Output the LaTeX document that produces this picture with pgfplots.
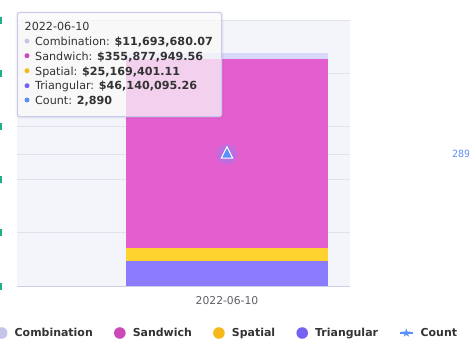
\documentclass[border=0pt]{standalone}
\usepackage{pgfplots}
\pgfplotsset{compat=1.18}
\usepackage{fontspec}
\setmainfont{DejaVu Sans}
\newfontfamily\monofont{DejaVu Sans Mono}
\definecolor{bgc}{HTML}{F3F5FA}
\definecolor{gridc}{HTML}{DFE2EA}
\definecolor{axisc}{HTML}{C9D1E6}
\definecolor{combc}{HTML}{D8D8FA}
\definecolor{sandc}{HTML}{E35FD0}
\definecolor{spatc}{HTML}{FED32F}
\definecolor{triac}{HTML}{8B7CFE}
\definecolor{countc}{HTML}{5B8FF9}
\definecolor{lcomb}{HTML}{C5C5EA}
\definecolor{lsand}{HTML}{CC4AB8}
\definecolor{lspat}{HTML}{F5B91B}
\definecolor{ltria}{HTML}{7562F5}
\definecolor{tealc}{HTML}{1FAE8A}
\definecolor{txtc}{HTML}{333333}
\definecolor{lblc}{HTML}{5E5E66}
\definecolor{glowc}{HTML}{9A7BF0}
\definecolor{ttborder}{HTML}{C6C8EE}
\begin{document}
\begin{tikzpicture}[x=1bp,y=1bp]
\path[use as bounding box] (0,0) rectangle (469,351);
\clip (0,0) rectangle (469,351);
\begin{axis}[
  at={(17bp,65bp)}, anchor=south west,
  scale only axis, width=333bp, height=266bp,
  xmin=-1.0396, xmax=0.6089, ymin=0, ymax=500,
  ybar stacked, bar width=202bp,
  axis background/.style={fill=bgc},
  axis x line*=bottom, axis y line*=left,
  x axis line style={axisc, line width=1bp},
  y axis line style={draw=none},
  major tick length=0pt,
  ymajorgrids, grid style={gridc, line width=0.8bp},
  ytick={0,100,200,300,400,500},
  yticklabel={\textcolor{tealc}{\rule[-3.5bp]{2.5bp}{7bp}}},
  yticklabel style={anchor=east, inner sep=0pt, xshift=-14.5bp},
  extra y ticks={247.6}, extra y tick labels={\empty},
  extra y tick style={grid=major},
  xtick={0}, xticklabels={2022-06-10},
  xticklabel style={font=\fontsize{10.8}{12}\selectfont, text=lblc, anchor=north, inner sep=0pt, yshift=-10.5bp},
]
\addplot[fill=triac, draw=none] coordinates {(0,46.14009526)};
\addplot[fill=spatc, draw=none] coordinates {(0,25.16940111)};
\addplot[fill=sandc, draw=none] coordinates {(0,355.87794956)};
\addplot[fill=combc, draw=none] coordinates {(0,11.69368007)};
\end{axis}
\begin{axis}[
  at={(17bp,65bp)}, anchor=south west,
  scale only axis, width=333bp, height=266bp,
  xmin=-1.0396, xmax=0.6089, ymin=0, ymax=5837,
  axis x line=none, axis y line*=right,
  y axis line style={draw=none},
  major tick length=0pt,
  ytick={2890}, yticklabels={2890},
  yticklabel style={font=\monofont\fontsize{10}{12}\selectfont, text=countc, anchor=west, inner sep=0pt, xshift=102bp},
  clip=false,
  legend columns=5,
  legend style={at={(-0.07357,-0.17669)}, anchor=west, draw=none, fill=none,
    font=\bfseries\fontsize{11}{13}\selectfont, text=txtc,
    column sep=0pt,
    /tikz/every odd column/.style={column sep=7bp},
    /tikz/every even column/.style={column sep=21bp},
    nodes={inner sep=0pt}, cells={anchor=west}},
]
\addplot[only marks, mark=*, mark size=10bp, mark options={draw=glowc, draw opacity=0, fill=glowc, fill opacity=0.5}, forget plot] coordinates {(0,2890)};
\addplot[only marks, mark=triangle*, mark size=6.5bp, mark options={fill=countc, draw=white, line width=1bp, yscale=1.15}, forget plot] coordinates {(0,2890)};
\addlegendimage{legend image code/.code={\path[draw=none, fill=lcomb] (6bp,0) circle (5.8bp); \path[draw=none, fill=none] (0,-6bp) rectangle (12bp,6bp);}}
\addlegendentry{Combination}
\addlegendimage{legend image code/.code={\path[draw=none, fill=lsand] (6bp,0) circle (5.8bp); \path[draw=none, fill=none] (0,-6bp) rectangle (12bp,6bp);}}
\addlegendentry{Sandwich}
\addlegendimage{legend image code/.code={\path[draw=none, fill=lspat] (6bp,0) circle (5.8bp); \path[draw=none, fill=none] (0,-6bp) rectangle (12bp,6bp);}}
\addlegendentry{Spatial}
\addlegendimage{legend image code/.code={\path[draw=none, fill=ltria] (6bp,0) circle (5.8bp); \path[draw=none, fill=none] (0,-6bp) rectangle (12bp,6bp);}}
\addlegendentry{Triangular}
\addlegendimage{legend image code/.code={\path[draw=countc, fill=none, line width=1.6bp] (-2bp,0) -- (11bp,0);
  \path[draw=none, fill=countc] (4.5bp,0) +(90:4.5bp) -- +(126:1.8bp) -- +(162:4.5bp) -- +(198:1.8bp) -- +(234:4.5bp) -- +(270:1.8bp) -- +(306:4.5bp) -- +(342:1.8bp) -- +(18:4.5bp) -- +(54:1.8bp) -- cycle;
  \path[draw=none, fill=none] (0,-6bp) rectangle (11bp,6bp);}}
\addlegendentry{Count}
\end{axis}
% tooltip
\fill[black, opacity=0.05, rounded corners=3] (15.5,232.5) rectangle (223.5,339.5);
\fill[white, fill opacity=0.72, rounded corners=2.5] (17,234) rectangle (222,339);
\draw[ttborder, line width=1, rounded corners=2.5] (17.5,234.5) rectangle (221.5,338.5);
\begin{scope}[every node/.style={inner sep=0pt, anchor=base west, text=txtc, font=\fontsize{11.2}{13}\selectfont}]
\node at (24.5,321) {2022-06-10};
\fill[lcomb] (27,310) circle (2.5);
\node at (35,305.5) {Combination: \textbf{\$11,693,680.07}};
\fill[lsand] (27,295.3) circle (2.5);
\node at (35,290.8) {Sandwich: \textbf{\$355,877,949.56}};
\fill[lspat] (27,280.3) circle (2.5);
\node at (35,276) {Spatial: \textbf{\$25,169,401.11}};
\fill[ltria] (27,265.3) circle (2.5);
\node at (35,261.2) {Triangular: \textbf{\$46,140,095.26}};
\fill[countc] (27,251) circle (2.5);
\node at (35,246.5) {Count: \textbf{2,890}};
\end{scope}
\end{tikzpicture}
\end{document}
